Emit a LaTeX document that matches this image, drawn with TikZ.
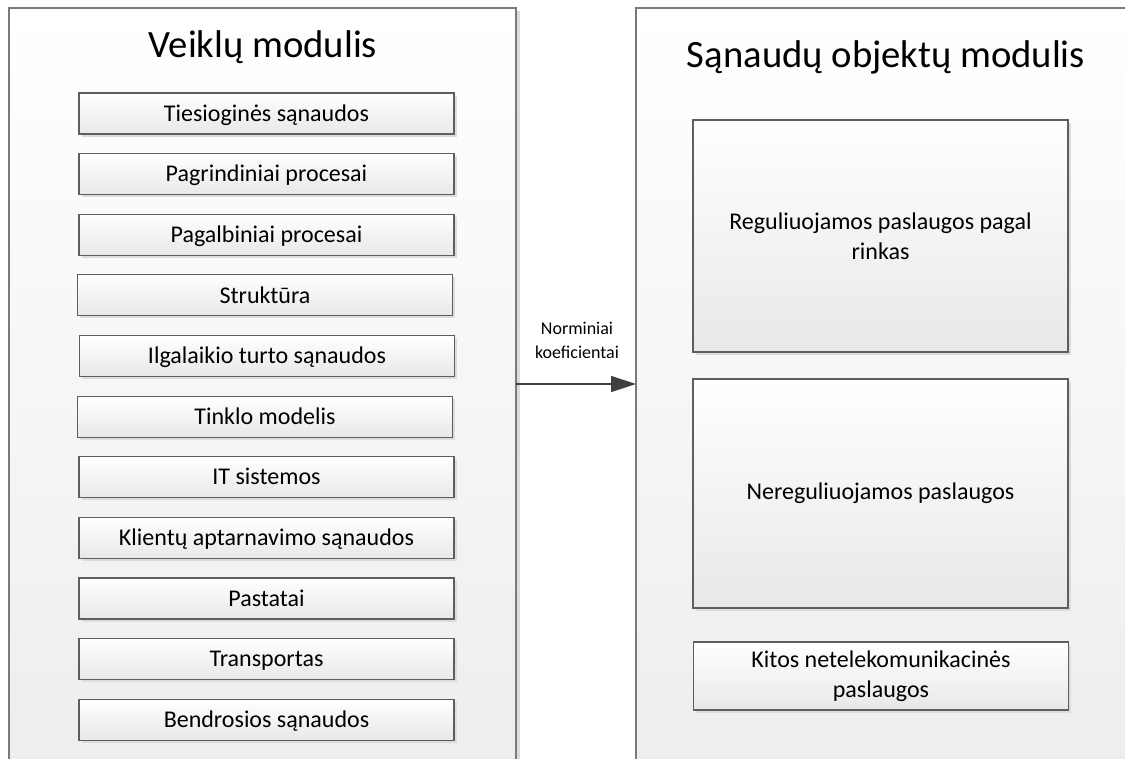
\documentclass[tikz,border=0pt]{standalone}
\usepackage{fontspec}
\setmainfont{Carlito}
\usetikzlibrary{arrows.meta,shadows}
\definecolor{boxline}{HTML}{5E5E5E}
\definecolor{contline}{HTML}{7A7A7A}
\definecolor{arrowcol}{HTML}{404040}
\definecolor{shadowcol}{HTML}{DCDCDC}
\tikzset{
  container/.style={draw=contline, line width=1.1pt, top color=white, bottom color=black!7, shading angle=0},
  bigbox/.style={draw=boxline, line width=0.9pt, top color=white, bottom color=black!9,
    minimum width=281.25pt, inner sep=0pt, align=center,
    font=\fontsize{18}{22.5}\selectfont,
    drop shadow={shadow xshift=2pt, shadow yshift=-2pt, fill=shadowcol, opacity=1}},
  itembox/.style={bigbox, minimum height=30.75pt, text height=11.6pt, text depth=0pt},
  titletext/.style={font=\fontsize{29}{35}\selectfont, inner sep=0pt},
  flowlabel/.style={font=\fontsize{13.5}{18}\selectfont, align=center, inner sep=0pt},
  flow/.style={draw=arrowcol, line width=1.1pt, -{Triangle[length=18.75pt, width=12pt]}}
}
\begin{document}
\begin{tikzpicture}[x=0.75pt,y=-0.75pt]
\useasboundingbox (0,0) rectangle (1125,758);
\fill[white] (0,0) rectangle (1125,758);
% containers
\fill[shadowcol] (516,11) rectangle (520,770);
\path[container] (9,8) rectangle (516,770);
\path[container] (636,8) rectangle (1140,770);
\node[titletext] (t1) at (263,47) {Veiklų modulis};
\node[titletext] (t2) at (886,57) {Sąnaudų objektų modulis};
% left items
\node[itembox] (a1)  at (266.5,113.5) {Tiesioginės sąnaudos};
\node[itembox] (a2)  at (266.5,174.1) {Pagrindiniai procesai};
\node[itembox] (a3)  at (266.5,234.7) {Pagalbiniai procesai};
\node[itembox] (a4)  at (265,295.3) {Struktūra};
\node[itembox] (a5)  at (267,356) {Ilgalaikio turto sąnaudos};
\node[itembox] (a6)  at (265,416.6) {Tinklo modelis};
\node[itembox] (a7)  at (266.5,477.2) {IT sistemos};
\node[itembox] (a8)  at (266.5,537.8) {Klientų aptarnavimo sąnaudos};
\node[itembox] (a9)  at (266.5,598.4) {Pastatai};
\node[itembox] (a10) at (266.5,659) {Transportas};
\node[itembox] (a11) at (266.5,719.6) {Bendrosios sąnaudos};
% right items
\node[bigbox, minimum height=174pt] (b1) at (880.5,236) {Reguliuojamos paslaugos pagal\\rinkas};
\node[bigbox, minimum height=171.75pt] (b2) at (880.5,493.5) {Nereguliuojamos paslaugos};
\node[bigbox, minimum height=51pt] (b3) at (881,676) {Kitos netelekomunikacinės\\paslaugos};
% connector
\coordinate (s) at (516,384);
\coordinate (e) at (636,384);
\draw[flow] (s) -- (e);
\node[flowlabel] (lbl) at (577,340) {Norminiai\\koeficientai};
\end{tikzpicture}
\end{document}
